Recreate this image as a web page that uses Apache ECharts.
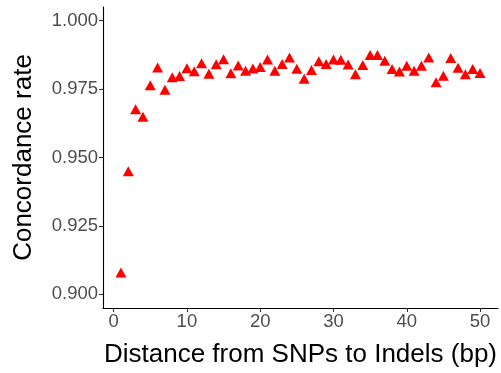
<!DOCTYPE html>
<html>
<head>
<meta charset="utf-8">
<script src="https://cdn.jsdelivr.net/npm/echarts@6/dist/echarts.min.js"></script>
<style>
  html, body { margin: 0; padding: 0; background: #fff; }
  #chart { width: 501px; height: 373px; }
</style>
</head>
<body>
<div id="chart"></div>
<script>
// Distance (bp) between each SNP and the nearest indel
const distances = [1, 2, 3, 4, 5, 6, 7, 8, 9, 10,
  11, 12, 13, 14, 15, 16, 17, 18, 19, 20,
  21, 22, 23, 24, 25, 26, 27, 28, 29, 30,
  31, 32, 33, 34, 35, 36, 37, 38, 39, 40,
  41, 42, 43, 44, 45, 46, 47, 48, 49, 50];

// Concordance rate at each distance
const concordance = [0.908, 0.945, 0.9676, 0.9649, 0.9764, 0.9829, 0.9748, 0.9793, 0.9798, 0.9826,
  0.9815, 0.9844, 0.9806, 0.9841, 0.9859, 0.9808, 0.9836, 0.9817, 0.9825, 0.9831,
  0.9858, 0.9817, 0.9842, 0.9865, 0.9824, 0.9788, 0.9820, 0.9852, 0.9842, 0.9858,
  0.9857, 0.9840, 0.9804, 0.9838, 0.9875, 0.9875, 0.9854, 0.9823, 0.9814, 0.9835,
  0.9817, 0.9835, 0.9865, 0.9775, 0.9799, 0.9864, 0.9828, 0.9804, 0.9823, 0.9809];

const xTicks = [0, 10, 20, 30, 40, 50];
const yTicks = [0.900, 0.925, 0.950, 0.975, 1.000];

const font = 'Liberation Sans, Arial, Helvetica, sans-serif';
const chart = echarts.init(document.getElementById('chart'), null, { renderer: 'canvas' });

chart.setOption({
  animation: false,
  backgroundColor: '#ffffff',
  grid: { left: 103, right: 3, top: 7, bottom: 65, containLabel: false },
  xAxis: {
    type: 'value',
    min: -1.45,
    max: 52.45,
    name: 'Distance from SNPs to Indels (bp)',
    nameLocation: 'middle',
    nameGap: 34,
    nameTextStyle: { color: '#000', fontSize: 26, fontFamily: font },
    axisLine: { show: true, onZero: false, lineStyle: { color: '#000', width: 1.1 } },
    axisTick: { show: true, length: 4, customValues: xTicks, lineStyle: { color: '#333', width: 1.1 } },
    axisLabel: { customValues: xTicks, color: '#4d4d4d', fontSize: 18.5, fontFamily: font, margin: 4 },
    splitLine: { show: false }
  },
  yAxis: {
    type: 'value',
    min: 0.895,
    max: 1.005,
    name: 'Concordance rate',
    nameLocation: 'middle',
    nameGap: 66,
    nameTextStyle: { color: '#000', fontSize: 26, fontFamily: font },
    axisLine: { show: true, onZero: false, lineStyle: { color: '#000', width: 1.1 } },
    axisTick: { show: true, length: 4, customValues: yTicks, lineStyle: { color: '#333', width: 1.1 } },
    axisLabel: {
      customValues: yTicks, color: '#4d4d4d', fontSize: 18.5, fontFamily: font, margin: 5,
      formatter: v => v.toFixed(3)
    },
    splitLine: { show: false }
  },
  series: [{
    type: 'scatter',
    symbol: 'triangle',
    symbolSize: [11, 10],
    itemStyle: { color: '#ff0000', opacity: 1 },
    data: distances.map((d, i) => [d, concordance[i]])
  }]
});
</script>
</body>
</html>
